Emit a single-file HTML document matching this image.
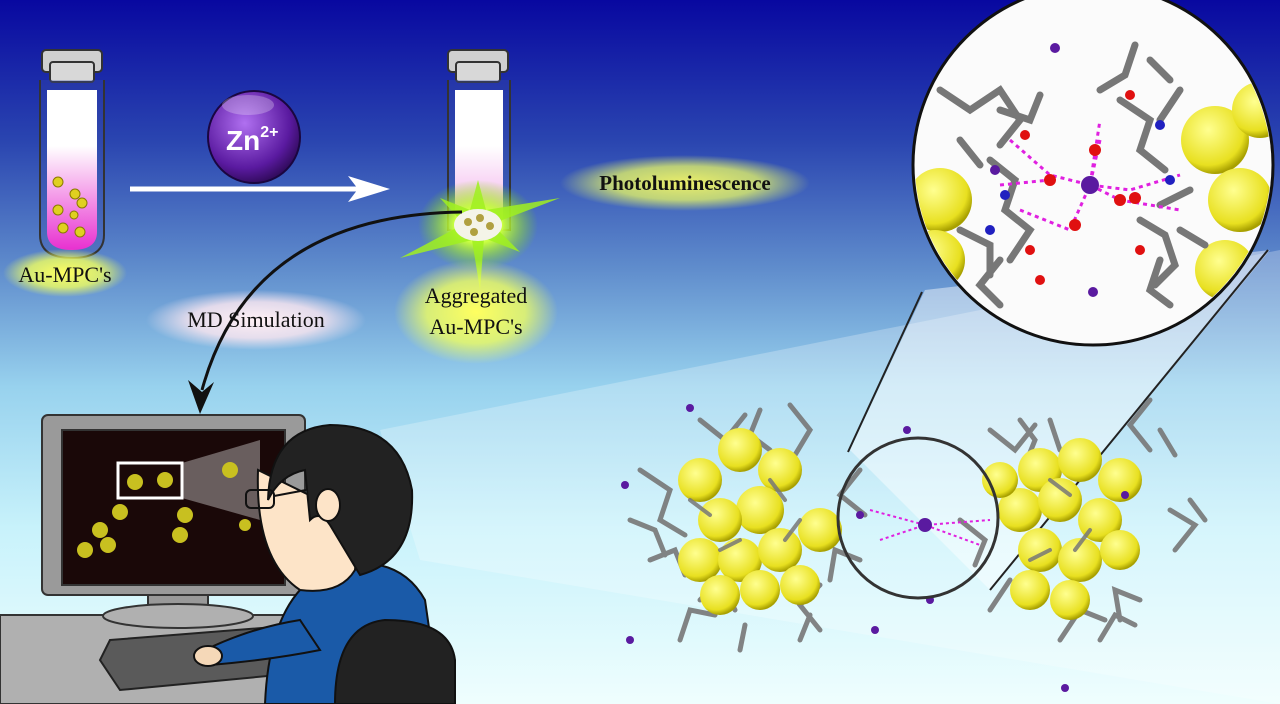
<!DOCTYPE html>
<html><head><style>
html,body{margin:0;padding:0;width:1280px;height:704px;overflow:hidden}
body{background:linear-gradient(to bottom,#0808a0 0%,#2a45b0 20%,#5f8ccc 38%,#98d2ee 55%,#c8f2fb 75%,#effefe 100%)}
svg{position:absolute;left:0;top:0}
text{font-family:"Liberation Serif",serif}
</style></head><body>
<svg width="1280" height="704" viewBox="0 0 1280 704">
<defs>
<linearGradient id="tube" x1="0" y1="0" x2="0" y2="1"><stop offset="0.35" stop-color="#fff"/><stop offset="1" stop-color="#e830d0"/></linearGradient>
<linearGradient id="tube2" x1="0" y1="0" x2="0" y2="1"><stop offset="0.4" stop-color="#fff"/><stop offset="1" stop-color="#f0a0e8"/></linearGradient>
<radialGradient id="zn" cx="0.4" cy="0.35" r="0.7"><stop offset="0" stop-color="#b070f0"/><stop offset="0.7" stop-color="#5a1aa0"/><stop offset="1" stop-color="#2a0850"/></radialGradient>
<radialGradient id="glow" cx="0.5" cy="0.5" r="0.5"><stop offset="0" stop-color="#ffff60"/><stop offset="0.6" stop-color="#f0ff60" stop-opacity="0.8"/><stop offset="1" stop-color="#f0ff60" stop-opacity="0"/></radialGradient>
<radialGradient id="pglow" cx="0.5" cy="0.5" r="0.5"><stop offset="0" stop-color="#fff0f4"/><stop offset="0.6" stop-color="#ffe8f0" stop-opacity="0.8"/><stop offset="1" stop-color="#ffe8f0" stop-opacity="0"/></radialGradient>
<radialGradient id="au" cx="0.4" cy="0.35" r="0.65"><stop offset="0" stop-color="#ffff90"/><stop offset="0.8" stop-color="#e8e020"/><stop offset="1" stop-color="#a8a000"/></radialGradient>
<radialGradient id="star" cx="0.5" cy="0.5" r="0.5"><stop offset="0" stop-color="#fff"/><stop offset="0.4" stop-color="#c8ff40"/><stop offset="1" stop-color="#80e000" stop-opacity="0"/></radialGradient>
</defs>
<polygon points="380,430 1280,250 1280,704 420,560" fill="#ffffff" opacity="0.25"/>
<polygon points="850,450 925,290 1270,250 990,590" fill="#ffffff" opacity="0.45"/>
<line x1="848" y1="452" x2="922" y2="292" stroke="#222" stroke-width="2"/>
<line x1="990" y1="590" x2="1268" y2="250" stroke="#222" stroke-width="2"/>

<rect x="42" y="50" width="60" height="22" rx="4" fill="#d0d0d0" stroke="#333" stroke-width="2"/>
<rect x="50" y="62" width="44" height="20" rx="3" fill="#d8d8d8" stroke="#333" stroke-width="2"/>
<path d="M40,80 L40,235 Q40,258 72,258 Q104,258 104,235 L104,80" fill="#3a4ea8" fill-opacity="0.3" stroke="#333" stroke-width="2"/>
<path d="M47,90 L47,232 Q47,250 72,250 Q97,250 97,232 L97,90Z" fill="url(#tube)"/>
<g fill="#e0d020" stroke="#8a7a00" stroke-width="1">
<circle cx="58" cy="182" r="5"/><circle cx="75" cy="194" r="5"/><circle cx="82" cy="203" r="5"/><circle cx="58" cy="210" r="5"/><circle cx="74" cy="215" r="4"/><circle cx="63" cy="228" r="5"/><circle cx="80" cy="232" r="5"/>
</g>
<ellipse cx="65" cy="273" rx="62" ry="24" fill="url(#glow)"/>
<text x="65" y="282" font-size="22" text-anchor="middle" fill="#111">Au-MPC's</text>

<circle cx="254" cy="137" r="46" fill="url(#zn)" stroke="#1a0640" stroke-width="2"/>
<ellipse cx="248" cy="105" rx="26" ry="10" fill="#fff" opacity="0.25"/>
<text x="226" y="150" font-size="28" font-weight="bold" fill="#fff" style="font-family:'Liberation Sans',sans-serif">Zn<tspan font-size="16" dy="-13">2+</tspan></text>
<line x1="130" y1="189" x2="360" y2="189" stroke="#fff" stroke-width="5"/>
<polygon points="390,189 348,176 358,189 348,202" fill="#fff"/>

<rect x="448" y="50" width="60" height="22" rx="4" fill="#d0d0d0" stroke="#333" stroke-width="2"/>
<rect x="456" y="62" width="44" height="20" rx="3" fill="#d8d8d8" stroke="#333" stroke-width="2"/>
<path d="M448,80 L448,230 L510,230 L510,80" fill="#3a4ea8" fill-opacity="0.3" stroke="#333" stroke-width="2"/>
<rect x="455" y="90" width="48" height="140" fill="url(#tube2)"/>
<ellipse cx="478" cy="225" rx="60" ry="45" fill="url(#star)"/>
<polygon points="478,180 486,210 560,198 492,224 520,252 484,238 480,290 472,240 400,258 464,224 440,198 470,210" fill="#a0f020" opacity="0.85"/>
<ellipse cx="478" cy="225" rx="24" ry="16" fill="#f4f4e8"/>
<g fill="#b0a040"><circle cx="468" cy="222" r="4"/><circle cx="480" cy="218" r="4"/><circle cx="490" cy="226" r="4"/><circle cx="474" cy="232" r="4"/></g>
<ellipse cx="685" cy="183" rx="125" ry="28" fill="url(#glow)" opacity="0.9"/>
<text x="685" y="190" font-size="21" text-anchor="middle" fill="#111" font-weight="bold">Photoluminescence</text>
<ellipse cx="476" cy="312" rx="82" ry="52" fill="url(#glow)"/>
<text x="476" y="303" font-size="22" text-anchor="middle" fill="#111">Aggregated</text>
<text x="476" y="334" font-size="22" text-anchor="middle" fill="#111">Au-MPC's</text>
<ellipse cx="256" cy="320" rx="110" ry="30" fill="url(#pglow)"/>
<text x="256" y="327" font-size="22" text-anchor="middle" fill="#111">MD Simulation</text>
<path d="M462,212 Q250,215 202,390" fill="none" stroke="#111" stroke-width="3"/>
<polygon points="200,414 188,380 202,392 214,382" fill="#111"/>

<rect x="0" y="615" width="310" height="89" fill="#b0b0b0" stroke="#333" stroke-width="2"/>
<rect x="42" y="415" width="263" height="180" rx="6" fill="#9a9a9a" stroke="#333" stroke-width="2"/>
<rect x="62" y="430" width="223" height="155" fill="#1a0808" stroke="#333" stroke-width="2"/>
<rect x="118" y="463" width="64" height="35" fill="none" stroke="#fff" stroke-width="3"/>
<polygon points="182,463 260,440 260,520 182,498" fill="#fff" opacity="0.35"/>
<g fill="#c8c020">
<circle cx="135" cy="482" r="8"/><circle cx="165" cy="480" r="8"/><circle cx="230" cy="470" r="8"/><circle cx="120" cy="512" r="8"/><circle cx="100" cy="530" r="8"/><circle cx="185" cy="515" r="8"/><circle cx="85" cy="550" r="8"/><circle cx="108" cy="545" r="8"/><circle cx="180" cy="535" r="8"/><circle cx="245" cy="525" r="6"/>
</g>
<rect x="148" y="595" width="60" height="15" fill="#999" stroke="#333" stroke-width="2"/>
<ellipse cx="178" cy="616" rx="75" ry="12" fill="#b0b0b0" stroke="#333" stroke-width="2"/>
<polygon points="110,640 300,625 310,672 120,690 100,660" fill="#5a5a5a" stroke="#222" stroke-width="2"/>
<path d="M265,704 Q270,585 340,565 Q400,555 425,600 L440,704Z" fill="#1a5aa8" stroke="#111" stroke-width="2"/>
<path d="M300,620 Q250,628 205,650 L210,665 Q270,660 320,650Z" fill="#1a5aa8" stroke="#111" stroke-width="2"/>
<ellipse cx="208" cy="656" rx="14" ry="10" fill="#f5d8b8" stroke="#111" stroke-width="2"/>
<path d="M258,470 Q255,560 300,590 Q340,595 355,570 L360,520 Z" fill="#fde4c8" stroke="#111" stroke-width="2"/>
<path d="M268,500 Q270,430 330,425 Q400,425 412,490 Q415,560 360,575 L330,525 Q320,510 310,520 L305,470 Q280,475 268,500Z" fill="#222" stroke="#111" stroke-width="2"/>
<ellipse cx="328" cy="505" rx="12" ry="16" fill="#fde4c8" stroke="#111" stroke-width="2"/>
<rect x="246" y="490" width="28" height="18" rx="5" fill="none" stroke="#111" stroke-width="2"/>
<line x1="274" y1="496" x2="306" y2="490" stroke="#111" stroke-width="2"/>
<path d="M335,704 Q335,625 385,620 Q450,620 455,660 L455,704Z" fill="#222" stroke="#111" stroke-width="2"/>

<g stroke="#777" stroke-width="5" stroke-linecap="round" fill="none" opacity="0.9">
<path d="M640,470 l30,20 l-10,30 l25,15 M650,560 l25,-10 l10,25 M700,600 l20,-20 l15,30 M700,420 l25,20 l20,-25 M790,405 l20,25 l-15,25 M820,630 l-20,-25 l20,-20 M860,470 l-20,25 l25,20 M860,560 l-25,-10 l-5,30"/>
<path d="M990,430 l25,20 l20,-25 M1050,420 l10,30 M1150,400 l-20,25 l20,25 M1170,510 l25,15 l-20,25 M1140,600 l-25,-10 l5,30 M1060,640 l20,-30 l25,10 M990,610 l20,-30 M960,520 l25,20 l-10,25"/>
<path d="M630,520 l25,10 l10,25 M680,640 l10,-30 l25,5 M760,410 l-10,25 l20,15 M800,640 l10,-25 M1190,500 l15,20 M1020,420 l15,20 l-10,25 M1100,640 l15,-25 l20,10 M1160,430 l15,25 M740,650 l5,-25"/>
</g>
<g fill="url(#au)">
<circle cx="700" cy="480" r="22"/><circle cx="740" cy="450" r="22"/><circle cx="780" cy="470" r="22"/><circle cx="760" cy="510" r="24"/><circle cx="720" cy="520" r="22"/><circle cx="700" cy="560" r="22"/><circle cx="740" cy="560" r="22"/><circle cx="780" cy="550" r="22"/><circle cx="820" cy="530" r="22"/><circle cx="800" cy="585" r="20"/><circle cx="720" cy="595" r="20"/><circle cx="760" cy="590" r="20"/>
<circle cx="1040" cy="470" r="22"/><circle cx="1080" cy="460" r="22"/><circle cx="1120" cy="480" r="22"/><circle cx="1020" cy="510" r="22"/><circle cx="1060" cy="500" r="22"/><circle cx="1100" cy="520" r="22"/><circle cx="1040" cy="550" r="22"/><circle cx="1080" cy="560" r="22"/><circle cx="1120" cy="550" r="20"/><circle cx="1030" cy="590" r="20"/><circle cx="1070" cy="600" r="20"/><circle cx="1000" cy="480" r="18"/>
</g>
<g stroke="#777" stroke-width="4" stroke-linecap="round" fill="none" opacity="0.85">
<path d="M690,500 l20,15 M770,480 l15,20 M720,550 l20,-10 M800,520 l-15,20 M1050,480 l20,15 M1090,530 l-15,20 M1030,560 l20,-10"/>
</g>
<g stroke="#e020e0" stroke-width="2" stroke-dasharray="3,3" fill="none"><path d="M870,510 L925,525 L990,520 M880,540 L925,525 L980,545"/></g>
<circle cx="925" cy="525" r="7" fill="#5a1aa0"/>
<g fill="#5a1aa0"><circle cx="690" cy="408" r="4"/><circle cx="625" cy="485" r="4"/><circle cx="630" cy="640" r="4"/><circle cx="875" cy="630" r="4"/><circle cx="930" cy="600" r="4"/><circle cx="907" cy="430" r="4"/><circle cx="860" cy="515" r="4"/><circle cx="1065" cy="688" r="4"/><circle cx="1125" cy="495" r="4"/></g>
<circle cx="918" cy="518" r="80" fill="none" stroke="#333" stroke-width="3"/>

<circle cx="1093" cy="165" r="180" fill="#fbfbfb" stroke="#111" stroke-width="3"/>
<clipPath id="mc"><circle cx="1093" cy="165" r="178"/></clipPath>
<g clip-path="url(#mc)">
<g fill="url(#au)">
<circle cx="940" cy="200" r="32"/><circle cx="935" cy="260" r="30"/><circle cx="1215" cy="140" r="34"/><circle cx="1240" cy="200" r="32"/><circle cx="1225" cy="270" r="30"/><circle cx="1260" cy="110" r="28"/>
</g>
<g stroke="#777" stroke-width="7" stroke-linecap="round" fill="none">
<path d="M940,90 l30,20 l30,-20 l20,30 l-20,25 M990,160 l25,20 l-10,30 l25,20 l-20,30 M960,230 l30,15 l0,30 M1120,100 l30,20 l-10,30 l25,20 M1180,90 l-20,30 M1140,220 l25,15 l10,30 l-20,20 M1190,190 l-30,15 M1000,260 l-20,25 l20,20"/>
<path d="M1100,90 l25,-15 l10,-30 M1150,60 l20,20 M1180,230 l25,15 M1160,260 l-10,30 l20,15 M1000,110 l30,10 l10,-25 M960,140 l20,25"/>
</g>
<g stroke="#e020e0" stroke-width="3" stroke-dasharray="4,4" fill="none">
<path d="M1010,140 L1050,175 L1090,185 L1130,190 L1180,175 M1020,210 L1070,230 L1090,185 L1120,200 L1180,210 M1100,140 L1090,185 L1100,120 M1000,185 L1050,180"/>
</g>
<g fill="#e01010"><circle cx="1050" cy="180" r="6"/><circle cx="1095" cy="150" r="6"/><circle cx="1120" cy="200" r="6"/><circle cx="1075" cy="225" r="6"/><circle cx="1135" cy="198" r="6"/><circle cx="1025" cy="135" r="5"/><circle cx="1140" cy="250" r="5"/><circle cx="1040" cy="280" r="5"/><circle cx="1130" cy="95" r="5"/><circle cx="1030" cy="250" r="5"/></g>
<g fill="#2020c0"><circle cx="1170" cy="180" r="5"/><circle cx="990" cy="230" r="5"/><circle cx="1005" cy="195" r="5"/><circle cx="1160" cy="125" r="5"/></g>
<circle cx="1090" cy="185" r="9" fill="#5a1aa0"/>
<g fill="#5a1aa0"><circle cx="1055" cy="48" r="5"/><circle cx="995" cy="170" r="5"/><circle cx="1093" cy="292" r="5"/><circle cx="1015" cy="338" r="5"/></g>
</g>
</svg>
</body></html>
